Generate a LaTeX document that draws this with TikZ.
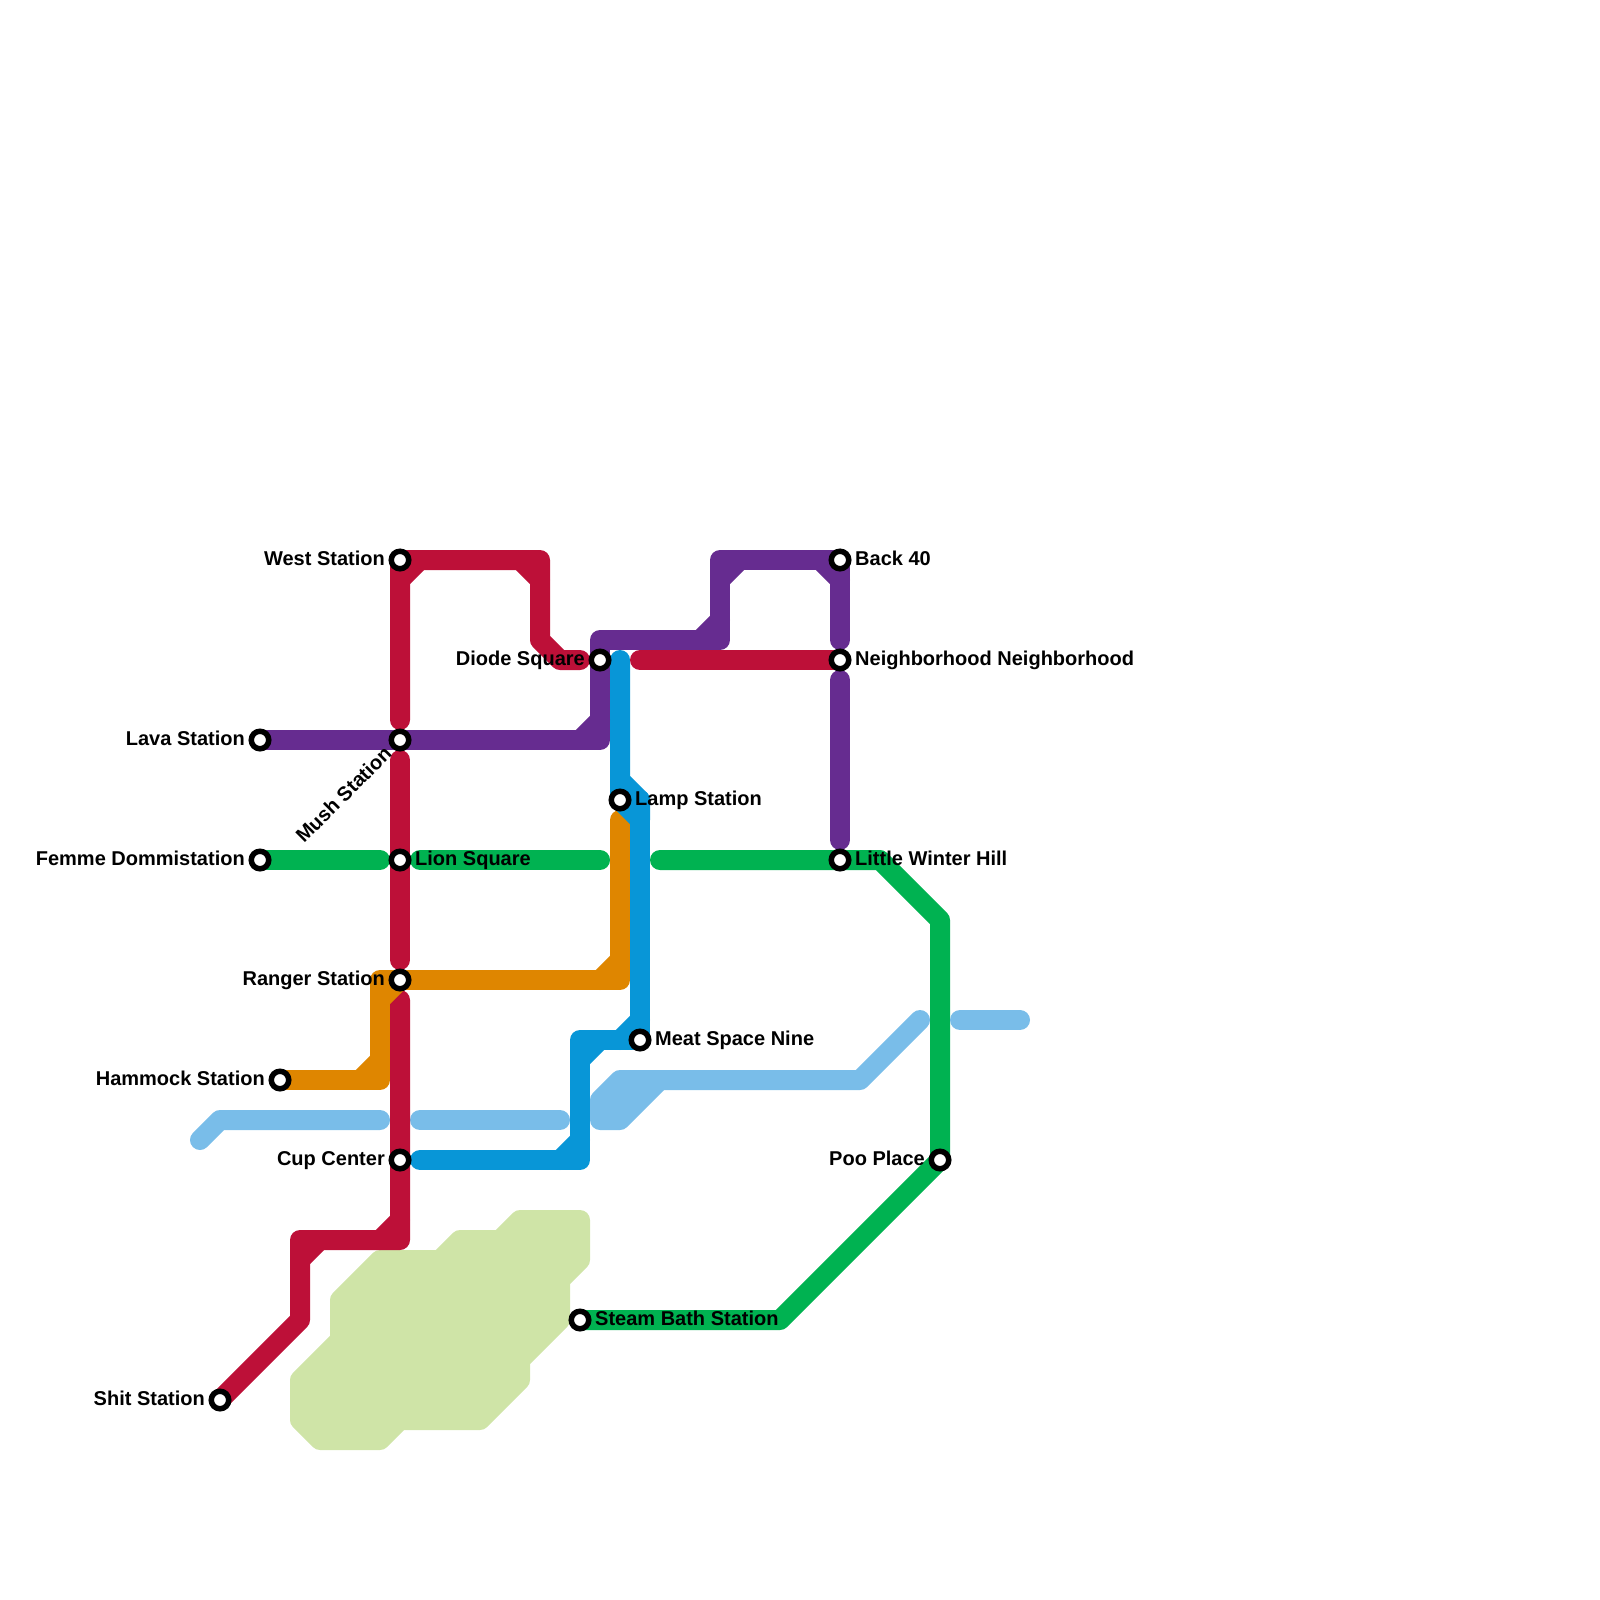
\documentclass[tikz,border=0pt]{standalone}
\usepackage{fontspec}
\setmainfont{Liberation Sans}
\definecolor{mapcolor0001}{RGB}{189,16,56}
\definecolor{mapcolor0002}{RGB}{102,44,144}
\definecolor{mapcolor0003}{RGB}{0,178,81}
\definecolor{mapcolor0004}{RGB}{223,134,0}
\definecolor{mapcolor0005}{RGB}{8,150,215}
\definecolor{mapcolor0006}{RGB}{121,189,233}
\definecolor{mapcolor0007}{RGB}{207,228,167}
\pgfdeclarelayer{lines}
\pgfsetlayers{lines,main}
\begin{document}
\begin{tikzpicture}[yscale=-1
,lstyle0/.style={line width=20pt,line cap=round,line join=round}
,lstyle1/.style={lstyle0,color=mapcolor0001}
,lstyle2/.style={lstyle0,color=mapcolor0002}
,lstyle3/.style={lstyle0,color=mapcolor0003}
,lstyle4/.style={lstyle0,color=mapcolor0004}
,lstyle5/.style={lstyle0,color=mapcolor0005}
,lstyle6/.style={lstyle0,color=mapcolor0006}
,lstyle7/.style={lstyle0,color=mapcolor0007,fill=mapcolor0007}
,sstyle/.style={circle,draw=black,fill=white,line width=5.5pt,inner sep=0,outer sep=0,minimum size=17.5pt}
,tstyle/.style={color=black,inner sep=0,font=\fontsize{20pt}{22pt}\selectfont\bfseries}
]
\useasboundingbox (0pt,0pt) rectangle (1600pt,1600pt);
% stations
\node[sstyle] (west) at (400pt,560pt) {};
\node[sstyle] (back) at (840pt,560pt) {};
\node[sstyle] (diode) at (600pt,660pt) {};
\node[sstyle] (neighborhood) at (840pt,660pt) {};
\node[sstyle] (lava) at (260pt,740pt) {};
\node[sstyle] (mush) at (400pt,740pt) {};
\node[sstyle] (lamp) at (620pt,800pt) {};
\node[sstyle] (femme) at (260pt,860pt) {};
\node[sstyle] (lion) at (400pt,860pt) {};
\node[sstyle] (winter) at (840pt,860pt) {};
\node[sstyle] (ranger) at (400pt,980pt) {};
\node[sstyle] (meat) at (640pt,1040pt) {};
\node[sstyle] (hammock) at (280pt,1080pt) {};
\node[sstyle] (cup) at (400pt,1160pt) {};
\node[sstyle] (poo) at (940pt,1160pt) {};
\node[sstyle] (steam) at (580pt,1320pt) {};
\node[sstyle] (shit) at (220pt,1400pt) {};
% labels
\node[tstyle,anchor=base east] (westlabel) at (385pt,565pt) {West Station};
\node[tstyle,anchor=base west] (backlabel) at (855pt,565pt) {Back 40};
\node[tstyle,anchor=base east] (diodelabel) at (585pt,665pt) {Diode Square};
\node[tstyle,anchor=base west] (neighborhoodlabel) at (855pt,665pt) {Neighborhood Neighborhood};
\node[tstyle,anchor=base east] (lavalabel) at (245pt,745pt) {Lava Station};
\node[tstyle,anchor=base east,rotate=45] (mushlabel) at (393pt,755pt) {Mush Station};
\node[tstyle,anchor=base west] (lamplabel) at (635pt,805pt) {Lamp Station};
\node[tstyle,anchor=base east] (femmelabel) at (245pt,865pt) {Femme Dommistation};
\node[tstyle,anchor=base west] (lionlabel) at (415pt,865pt) {Lion Square};
\node[tstyle,anchor=base west] (winterlabel) at (855pt,865pt) {Little Winter Hill};
\node[tstyle,anchor=base east] (rangerlabel) at (385pt,985pt) {Ranger Station};
\node[tstyle,anchor=base west] (meatlabel) at (655pt,1045pt) {Meat Space Nine};
\node[tstyle,anchor=base east] (hammocklabel) at (265pt,1085pt) {Hammock Station};
\node[tstyle,anchor=base east] (cuplabel) at (385pt,1165pt) {Cup Center};
\node[tstyle,anchor=base east] (poolabel) at (925pt,1165pt) {Poo Place};
\node[tstyle,anchor=base west] (steamlabel) at (595pt,1325pt) {Steam Bath Station};
\node[tstyle,anchor=base east] (shitlabel) at (205pt,1405pt) {Shit Station};
\begin{pgfonlayer}{lines}
% park
\filldraw[lstyle7] (520pt,1220pt) -- (580pt,1220pt) -- (580pt,1260pt) -- (560pt,1280pt) -- (560pt,1320pt) -- (520pt,1360pt) -- (520pt,1380pt) -- (480pt,1420pt) -- (400pt,1420pt) -- (380pt,1440pt) -- (320pt,1440pt) -- (300pt,1420pt) -- (300pt,1380pt) -- (340pt,1340pt) -- (340pt,1300pt) -- (380pt,1260pt) -- (440pt,1260pt) -- (460pt,1240pt) -- (500pt,1240pt) -- cycle;
% green line
\draw[lstyle3] (femme.center) -- (380pt,860pt);
\draw[lstyle3] (420pt,860pt) -- (600pt,860pt);
\draw[lstyle3] (660pt,860pt) -- (winter.center) -- (880pt,860pt) -- (940pt,920pt) -- (poo.center) -- (780pt,1320pt) -- (steam.center);
% pale blue line
\draw[lstyle6] (200pt,1140pt) -- (220pt,1120pt) -- (380pt,1120pt);
\draw[lstyle6] (420pt,1120pt) -- (560pt,1120pt);
\filldraw[lstyle6,fill=mapcolor0006] (600pt,1120pt) -- (600pt,1100pt) -- (620pt,1080pt) -- (660pt,1080pt) -- (620pt,1120pt) -- cycle;
\draw[lstyle6] (660pt,1080pt) -- (860pt,1080pt) -- (920pt,1020pt);
\draw[lstyle6] (960pt,1020pt) -- (1020pt,1020pt);
% orange line
\draw[lstyle4] (hammock.center) -- (380pt,1080pt) -- (380pt,980pt) -- (620pt,980pt) -- (620pt,820pt);
\draw[lstyle4] (360pt,1080pt) -- (380pt,1060pt);
\draw[lstyle4] (600pt,980pt) -- (620pt,960pt);
% blue line
\draw[lstyle5] (620pt,660pt) -- (lamp.center) -- (640pt,820pt) -- (640pt,800pt) -- (620pt,780pt);
\draw[lstyle5] (640pt,800pt) -- (meat.center) -- (580pt,1040pt) -- (580pt,1160pt) -- (420pt,1160pt);
\draw[lstyle5] (640pt,1020pt) -- (620pt,1040pt);
\draw[lstyle5] (580pt,1060pt) -- (600pt,1040pt);
\draw[lstyle5] (560pt,1160pt) -- (580pt,1140pt);
\draw[lstyle5] (640pt,800pt) -- (lamp.center);
% purple line
\draw[lstyle2] (lava.center) -- (600pt,740pt) -- (600pt,640pt) -- (720pt,640pt) -- (720pt,560pt) -- (back.center) -- (840pt,640pt);
\draw[lstyle2] (580pt,740pt) -- (600pt,720pt);
\draw[lstyle2] (700pt,640pt) -- (720pt,620pt);
\draw[lstyle2] (720pt,580pt) -- (740pt,560pt);
\draw[lstyle2] (820pt,560pt) -- (840pt,580pt);
\draw[lstyle2] (840pt,680pt) -- (840pt,840pt);
% red line
\draw[lstyle1] (400pt,720pt) -- (west.center) -- (540pt,560pt) -- (540pt,640pt) -- (560pt,660pt) -- (580pt,660pt);
\draw[lstyle1] (400pt,580pt) -- (420pt,560pt);
\draw[lstyle1] (520pt,560pt) -- (540pt,580pt);
\draw[lstyle1] (640pt,660pt) -- (neighborhood.center);
\draw[lstyle1] (400pt,760pt) -- (400pt,960pt);
\draw[lstyle1] (400pt,1000pt) -- (400pt,1240pt) -- (300pt,1240pt) -- (300pt,1320pt) -- (shit.center);
\draw[lstyle1] (380pt,1240pt) -- (400pt,1220pt);
\draw[lstyle1] (300pt,1260pt) -- (320pt,1240pt);
% orange over red
\draw[lstyle4] (380pt,1000pt) -- (400pt,980pt);
\end{pgfonlayer}
\end{tikzpicture}
\end{document}
